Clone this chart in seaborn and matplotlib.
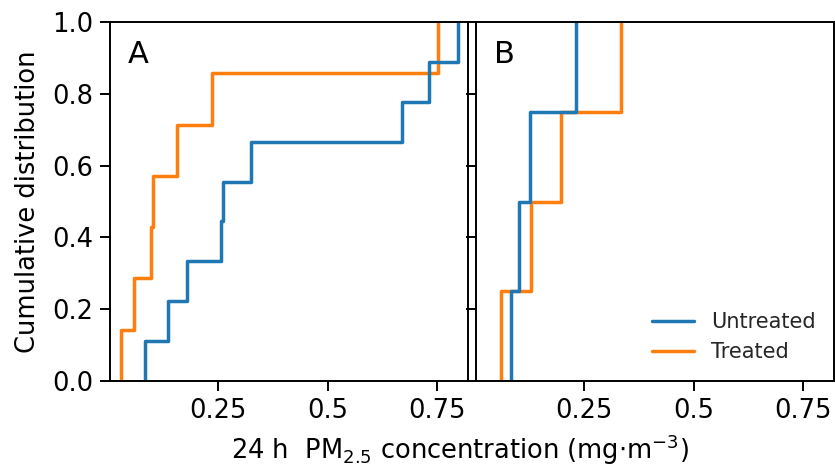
import numpy as np
import pandas as pd
import matplotlib
matplotlib.use("Agg")
import matplotlib.pyplot as plt
import seaborn as sns
from matplotlib.lines import Line2D

# Panel A values (mg/m3)
a_untreated = [0.083, 0.136, 0.179, 0.258, 0.261, 0.325, 0.669, 0.730, 0.798]
a_treated = [0.029, 0.059, 0.097, 0.101, 0.157, 0.236, 0.751]
# Panel B values
b_untreated = [0.084, 0.103, 0.126, 0.233]
b_treated = [0.060, 0.129, 0.198, 0.334]

groups = ["Untreated", "Treated"]
colors = ["#1f77b4", "#ff7f0e"]
xticks = [0.25, 0.5, 0.75]
xtick_labels = ["0.25", "0.5", "0.75"]
yticks = [0.0, 0.2, 0.4, 0.6, 0.8, 1.0]

sns.set_style("ticks")
plt.rcParams["font.family"] = ["DejaVu Sans"]

fig = plt.figure(figsize=(8.35, 4.71), dpi=100)
axA = fig.add_axes([110 / 835, 1 - 381 / 471, 358 / 835, 359 / 471])
axB = fig.add_axes([476 / 835, 1 - 381 / 471, 358 / 835, 359 / 471], sharey=axA)

def make_df(u, t):
    return pd.DataFrame({"value": list(u) + list(t),
                         "group": [groups[0]] * len(u) + [groups[1]] * len(t)})

for ax, (u, t), letter in [(axA, (a_untreated, a_treated), "A"),
                           (axB, (b_untreated, b_treated), "B")]:
    df = make_df(u, t)
    sns.ecdfplot(data=df, x="value", hue="group", hue_order=groups,
                 palette=colors, linewidth=2.5, ax=ax, legend=False)
    ax.set_xlim(0.004, 0.82)
    ax.set_ylim(0, 1)
    ax.set_xticks(xticks)
    ax.set_xticklabels(xtick_labels)
    ax.set_yticks(yticks)
    ax.set_xlabel("")
    ax.set_ylabel("")
    ax.tick_params(axis="both", direction="out", length=7, width=1.4,
                   labelsize=18.5, color="black", labelcolor="black", pad=5)
    for s in ax.spines.values():
        s.set_linewidth(1.4)
        s.set_color("black")
    ax.text(0.05, 0.95, letter, transform=ax.transAxes, ha="left", va="top",
            fontsize=22, color="black")

axA.set_yticklabels([f"{v:.1f}" for v in yticks])
axB.tick_params(axis="y", labelleft=False)

handles = [Line2D([0], [0], color=c, lw=2.5) for c in colors]
axB.legend(handles, groups, loc="lower right", frameon=False, fontsize=15,
           handlelength=2.0, borderaxespad=0.5)

fig.text(28 / 835, 1 - 202 / 471, "Cumulative distribution", rotation=90,
         ha="center", va="center", fontsize=18.5, color="black")
fig.text(460 / 835, 1 - 450 / 471, r"24 h  PM$_{2.5}$ concentration (mg$\cdot$m$^{-3}$)",
         ha="center", va="center", fontsize=18.5, color="black")

fig.savefig("out.png", dpi=100)
